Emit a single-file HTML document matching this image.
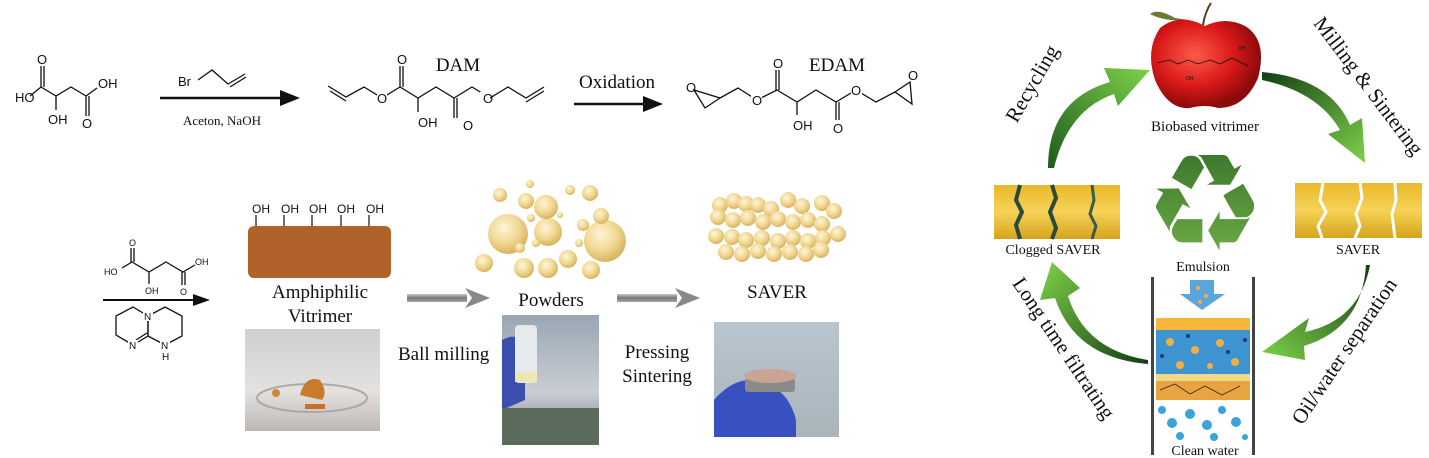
<!DOCTYPE html>
<html><head><meta charset="utf-8"><style>
html,body{margin:0;padding:0;background:#fff;}
svg{display:block}
.t{font-family:"Liberation Serif",serif;fill:#111}
.c{font-family:"Liberation Sans",sans-serif;font-size:13px;fill:#111}
.b{stroke:#111;stroke-width:1.3;fill:none}
</style></head><body>
<svg width="1429" height="458" viewBox="0 0 1429 458" xmlns="http://www.w3.org/2000/svg">
<defs>
<radialGradient id="ball" cx="40%" cy="35%" r="65%"><stop offset="0" stop-color="#fff6d8"/><stop offset="0.6" stop-color="#f0d690"/><stop offset="1" stop-color="#d8b462"/></radialGradient>
<linearGradient id="gray" x1="0" y1="0" x2="0" y2="1"><stop offset="0" stop-color="#c8c8c8"/><stop offset="0.5" stop-color="#777"/><stop offset="1" stop-color="#aaa"/></linearGradient>
<linearGradient id="yel" x1="0" y1="0" x2="0" y2="1"><stop offset="0" stop-color="#e9b92a"/><stop offset="0.5" stop-color="#f6d257"/><stop offset="1" stop-color="#d5a41c"/></linearGradient>
<linearGradient id="g1" x1="0" y1="1" x2="1" y2="0"><stop offset="0" stop-color="#1f5a1c"/><stop offset="1" stop-color="#7ed24a"/></linearGradient>
<linearGradient id="g2" x1="0" y1="0" x2="1" y2="1"><stop offset="0" stop-color="#143e14"/><stop offset="1" stop-color="#7ed24a"/></linearGradient>
<linearGradient id="g3" x1="1" y1="0" x2="0" y2="1"><stop offset="0" stop-color="#143e14"/><stop offset="1" stop-color="#7ed24a"/></linearGradient>
<linearGradient id="g4" x1="1" y1="1" x2="0" y2="0"><stop offset="0" stop-color="#143e14"/><stop offset="1" stop-color="#7ed24a"/></linearGradient>
<linearGradient id="rec" x1="0" y1="0" x2="0" y2="1"><stop offset="0" stop-color="#2e6a28"/><stop offset="1" stop-color="#7bb84a"/></linearGradient>
<radialGradient id="apple" cx="40%" cy="40%" r="60%"><stop offset="0" stop-color="#ff5a4a"/><stop offset="0.6" stop-color="#d81818"/><stop offset="1" stop-color="#8c0a0a"/></radialGradient>
<linearGradient id="photo1" x1="0" y1="0" x2="0" y2="1"><stop offset="0" stop-color="#cfcfcf"/><stop offset="0.6" stop-color="#e4e2e0"/><stop offset="1" stop-color="#bdb8b4"/></linearGradient>
<linearGradient id="photo2" x1="0" y1="0" x2="0" y2="1"><stop offset="0" stop-color="#9aa6b4"/><stop offset="0.6" stop-color="#c9ced4"/><stop offset="1" stop-color="#6a7a70"/></linearGradient>
<linearGradient id="photo3" x1="0" y1="0" x2="0" y2="1"><stop offset="0" stop-color="#b9c6cf"/><stop offset="1" stop-color="#a9b4bb"/></linearGradient>
</defs>

<!-- malic acid -->
<polyline class="b" points="30,96 41,87 56,96 71,87 86,96 97,88"/>
<line class="b" x1="41" y1="87" x2="41" y2="66"/><line class="b" x1="44" y1="87" x2="44" y2="66"/>
<line class="b" x1="56" y1="96" x2="56" y2="110"/>
<line class="b" x1="86" y1="96" x2="86" y2="116"/><line class="b" x1="89" y1="96" x2="89" y2="116"/>
<text class="c" x="15" y="102">HO</text><text class="c" x="37" y="64">O</text>
<text class="c" x="48" y="124">OH</text><text class="c" x="82" y="128">O</text><text class="c" x="98" y="88">OH</text>
<line x1="160" y1="98" x2="282" y2="98" stroke="#111" stroke-width="2.5"/>
<polygon points="280,90 300,98 280,106" fill="#111"/>
<text class="c" x="178" y="86">Br</text>
<polyline class="b" points="198,80 212,70 228,84 245,74"/><line class="b" x1="230" y1="87" x2="246" y2="77"/>
<text class="t" x="222" y="125" font-size="13" text-anchor="middle">Aceton, NaOH</text>
<!-- DAM -->
<text class="t" x="458" y="71" font-size="19" text-anchor="middle">DAM</text>
<polyline class="b" points="328,86 346,97 364,87 382,98 400,87 418,98 436,87 454,98 472,87 490,98 508,87 526,98 544,87"/>
<line class="b" x1="330" y1="91" x2="346" y2="101"/><line class="b" x1="526" y1="102" x2="544" y2="91"/>
<rect x="377" y="92" width="10" height="12" fill="#fff"/><text class="c" x="377" y="103">O</text>
<rect x="480" y="92" width="10" height="12" fill="#fff"/><text class="c" x="483" y="103">O</text>
<line class="b" x1="400" y1="87" x2="400" y2="66"/><line class="b" x1="403" y1="87" x2="403" y2="66"/><text class="c" x="397" y="64">O</text>
<line class="b" x1="418" y1="98" x2="418" y2="112"/><text class="c" x="418" y="127">OH</text>
<line class="b" x1="454" y1="98" x2="454" y2="118"/><line class="b" x1="457" y1="98" x2="457" y2="118"/><text class="c" x="463" y="130">O</text>
<text class="t" x="617" y="88" font-size="19" text-anchor="middle">Oxidation</text>
<line x1="574" y1="104" x2="645" y2="104" stroke="#111" stroke-width="2.5"/>
<polygon points="643,96 663,104 643,112" fill="#111"/>
<!-- EDAM -->
<text class="t" x="837" y="71" font-size="19" text-anchor="middle">EDAM</text>
<polygon class="b" points="694,90 705,108 720,98"/><text class="c" x="686" y="92">O</text>
<polyline class="b" points="720,98 738,88 757,100 777,90 797,102 816,90 836,102 856,90 876,102 895,92"/>
<rect x="751" y="94" width="11" height="12" fill="#fff"/><text class="c" x="752" y="105">O</text>
<rect x="851" y="84" width="11" height="12" fill="#fff"/><text class="c" x="851" y="95">O</text>
<line class="b" x1="776" y1="90" x2="776" y2="70"/><line class="b" x1="779" y1="90" x2="779" y2="70"/><text class="c" x="773" y="68">O</text>
<line class="b" x1="797" y1="102" x2="797" y2="115"/><text class="c" x="793" y="130">OH</text>
<line class="b" x1="836" y1="102" x2="836" y2="120"/><line class="b" x1="839" y1="102" x2="839" y2="120"/><text class="c" x="833" y="133">O</text>
<polygon class="b" points="895,92 910,82 912,104"/><text class="c" x="908" y="80">O</text>

<!-- bottom row -->
<polyline class="b" points="122,268 132,262 149,272 166,262 183,272 195,265"/>
<line class="b" x1="131" y1="262" x2="131" y2="248"/><line class="b" x1="134" y1="262" x2="134" y2="248"/>
<line class="b" x1="149" y1="272" x2="149" y2="284"/>
<line class="b" x1="182" y1="272" x2="182" y2="285"/><line class="b" x1="185" y1="272" x2="185" y2="285"/>
<g class="c" style="font-size:9px"><text x="104" y="275">HO</text><text x="129" y="246">O</text><text x="145" y="294">OH</text><text x="180" y="295">O</text><text x="195" y="265">OH</text></g>
<line x1="103" y1="300" x2="195" y2="300" stroke="#111" stroke-width="2"/>
<polygon points="193,294 210,300 193,306" fill="#111"/>
<polygon class="b" points="148,316 133,307 116,316 116,335 133,345 148,336"/>
<polygon class="b" points="148,336 165,345 182,336 182,316 165,307 148,316"/>
<line class="b" x1="136" y1="340" x2="147" y2="333"/>
<rect x="143" y="311" width="10" height="10" fill="#fff"/><text class="c" x="144" y="320" style="font-size:10px">N</text>
<rect x="128" y="340" width="10" height="10" fill="#fff"/><text class="c" x="129" y="349" style="font-size:10px">N</text>
<rect x="160" y="340" width="10" height="10" fill="#fff"/><text class="c" x="161" y="349" style="font-size:10px">N</text>
<text class="c" x="162" y="360" style="font-size:10px">H</text>

<g class="c" style="font-size:12px"><text x="252" y="213">OH</text><text x="281" y="213">OH</text><text x="309" y="213">OH</text><text x="337" y="213">OH</text><text x="366" y="213">OH</text></g>
<g stroke="#111" stroke-width="1.2"><line x1="256" y1="215" x2="256" y2="227"/><line x1="284" y1="215" x2="284" y2="227"/><line x1="312" y1="215" x2="312" y2="227"/><line x1="341" y1="215" x2="341" y2="227"/><line x1="369" y1="215" x2="369" y2="227"/></g>
<rect x="248" y="226" width="143" height="52" rx="6" fill="#b0622a"/>
<text class="t" x="320" y="298" font-size="19" text-anchor="middle">Amphiphilic</text>
<text class="t" x="320" y="322" font-size="19" text-anchor="middle">Vitrimer</text>
<rect x="245" y="329" width="135" height="102" fill="url(#photo1)"/>
<ellipse cx="312" cy="398" rx="55" ry="14" fill="none" stroke="#aaa" stroke-width="2"/>
<path d="M300 395 Q305 375 320 380 Q328 392 322 400 Z" fill="#c97a2a"/>
<circle cx="276" cy="393" r="4" fill="#c98a3a"/><rect x="305" y="404" width="20" height="5" fill="#c8702a"/>

<rect x="407" y="294" width="60" height="8" fill="url(#gray)"/><polygon points="465,288 490,298 465,308 472,298" fill="#888"/>
<rect x="617" y="294" width="60" height="8" fill="url(#gray)"/><polygon points="675,288 700,298 675,308 682,298" fill="#888"/>
<text class="t" x="398" y="360" font-size="19">Ball milling</text>
<text class="t" x="657" y="358" font-size="19" text-anchor="middle">Pressing</text>
<text class="t" x="657" y="382" font-size="19" text-anchor="middle">Sintering</text>

<g fill="url(#ball)">
<circle cx="508" cy="234" r="20"/><circle cx="548" cy="232" r="14"/><circle cx="546" cy="207" r="12"/><circle cx="605" cy="241" r="21"/>
<circle cx="484" cy="263" r="9"/><circle cx="524" cy="268" r="10"/><circle cx="548" cy="268" r="10"/><circle cx="568" cy="259" r="9"/><circle cx="591" cy="270" r="9"/>
<circle cx="500" cy="195" r="7"/><circle cx="526" cy="201" r="8"/><circle cx="590" cy="193" r="8"/><circle cx="601" cy="216" r="8"/>
<circle cx="570" cy="190" r="5"/><circle cx="531" cy="218" r="4"/><circle cx="536" cy="243" r="4"/><circle cx="579" cy="243" r="4"/><circle cx="583" cy="225" r="6"/><circle cx="520" cy="248" r="5"/><circle cx="530" cy="184" r="4"/><circle cx="560" cy="215" r="3"/>
</g>
<text class="t" x="551" y="306" font-size="19" text-anchor="middle">Powders</text>
<rect x="502" y="315" width="97" height="130" fill="url(#photo2)"/>
<path d="M502 340 Q520 330 525 350 L525 400 L502 410 Z" fill="#3a4fb0"/>
<rect x="515" y="325" width="22" height="58" rx="4" fill="#e6eaec"/><rect x="515" y="372" width="22" height="10" fill="#efe5b0"/>
<rect x="502" y="408" width="97" height="37" fill="#5b6b5c"/>

<g fill="url(#ball)">
<circle cx="720" cy="205" r="8"/><circle cx="734" cy="201" r="8"/><circle cx="746" cy="204" r="8"/><circle cx="758" cy="205" r="8"/><circle cx="771" cy="209" r="8"/><circle cx="788" cy="200" r="8"/><circle cx="802" cy="206" r="8"/><circle cx="822" cy="203" r="8"/><circle cx="834" cy="211" r="8"/>
<circle cx="718" cy="217" r="8"/><circle cx="733" cy="220" r="8"/><circle cx="748" cy="218" r="8"/><circle cx="763" cy="222" r="8"/><circle cx="778" cy="219" r="8"/><circle cx="793" cy="222" r="8"/><circle cx="808" cy="220" r="8"/><circle cx="822" cy="224" r="8"/>
<circle cx="716" cy="236" r="8"/><circle cx="732" cy="237" r="8"/><circle cx="746" cy="240" r="8"/><circle cx="762" cy="238" r="8"/><circle cx="778" cy="241" r="8"/><circle cx="793" cy="238" r="8"/><circle cx="808" cy="241" r="8"/><circle cx="823" cy="238" r="8"/><circle cx="838" cy="234" r="8"/>
<circle cx="726" cy="252" r="8"/><circle cx="742" cy="254" r="8"/><circle cx="758" cy="251" r="8"/><circle cx="774" cy="254" r="8"/><circle cx="790" cy="252" r="8"/><circle cx="806" cy="254" r="8"/><circle cx="821" cy="250" r="8"/>
</g>
<text class="t" x="777" y="298" font-size="19" text-anchor="middle">SAVER</text>
<rect x="714" y="322" width="125" height="115" fill="url(#photo3)"/>
<path d="M714 400 Q740 370 770 385 Q790 395 796 420 L796 437 L714 437 Z" fill="#3850c0"/>
<rect x="745" y="378" width="50" height="14" rx="3" fill="#8a8a88"/>
<ellipse cx="770" cy="376" rx="26" ry="7" fill="#c9a394"/>

<!-- right cycle -->
<path d="M1048,168 Q1048,100 1110,82 L1104,68 L1150,70 L1118,106 L1114,94 Q1068,110 1054,168 Z" fill="url(#g1)"/>
<path d="M1262,72 Q1330,78 1350,125 L1362,118 L1365,163 L1328,134 L1340,130 Q1318,92 1262,80 Z" fill="url(#g2)"/>
<path d="M1370,265 Q1360,320 1305,332 L1309,318 L1262,352 L1305,360 L1304,346 Q1362,328 1366,265 Z" fill="url(#g3)"/>
<path d="M1148,360 Q1085,350 1068,296 L1080,288 L1052,262 L1040,300 L1055,298 Q1075,358 1148,364 Z" fill="url(#g4)"/>

<text class="t" font-size="21" text-anchor="middle" transform="translate(1038,87) rotate(-60)">Recycling</text>
<text class="t" font-size="21" text-anchor="middle" transform="translate(1363,90) rotate(53)">Milling &amp; Sintering</text>
<text class="t" font-size="21" text-anchor="middle" transform="translate(1058,352) rotate(56)">Long time filtrating</text>
<text class="t" font-size="21" text-anchor="middle" transform="translate(1350,355) rotate(-56)">Oil/water separation</text>

<path d="M1175,18 Q1158,8 1150,14 Q1165,22 1188,20 Z" fill="#6a7a30"/>
<path d="M1203,25 Q1205,12 1211,3" stroke="#5a3a1a" stroke-width="2" fill="none"/>
<path d="M1205,26 Q1180,12 1160,28 Q1145,50 1155,80 Q1168,110 1190,108 Q1205,104 1218,108 Q1245,108 1258,78 Q1268,40 1245,26 Q1225,16 1205,26 Z" fill="url(#apple)"/>
<polyline points="1157,63 1170,60 1178,64 1188,60 1198,64 1210,60 1220,64 1232,58 1248,66" stroke="#111" stroke-width="0.8" fill="none"/>
<text class="c" x="1186" y="80" style="font-size:5px">OH</text><text class="c" x="1238" y="50" style="font-size:5px">OH</text>
<text class="t" x="1205" y="131" font-size="15" text-anchor="middle">Biobased vitrimer</text>

<text x="1205" y="250" font-family="DejaVu Sans, sans-serif" font-size="135" fill="url(#rec)" text-anchor="middle">♻</text>

<rect x="994" y="185" width="126" height="54" fill="url(#yel)"/>
<path d="M1020,185 L1016,200 L1022,212 L1016,225 L1020,239" stroke="#2a4a3a" stroke-width="4" fill="none"/>
<path d="M1052,185 L1056,198 L1050,212 L1056,228 L1052,239" stroke="#2a4a3a" stroke-width="4" fill="none"/>
<path d="M1092,185 L1094,200 L1090,214 L1096,226 L1092,239" stroke="#3a5a4a" stroke-width="3" fill="none"/>
<text class="t" x="1053" y="254" font-size="14" text-anchor="middle">Clogged SAVER</text>
<rect x="1295" y="183" width="127" height="55" fill="url(#yel)"/>
<path d="M1323,183 L1320,200 L1326,212 L1318,226 L1322,238" stroke="#fff" stroke-width="3" fill="none"/>
<path d="M1360,183 L1362,198 L1356,214 L1360,226 L1355,238" stroke="#fff" stroke-width="3" fill="none"/>
<path d="M1395,183 L1396,200 L1392,214 L1395,238" stroke="#fff" stroke-width="3" fill="none"/>
<text class="t" x="1358" y="254" font-size="14" text-anchor="middle">SAVER</text>

<text class="t" x="1203" y="271" font-size="14" text-anchor="middle">Emulsion</text>
<rect x="1151" y="277" width="3" height="178" fill="#444"/><rect x="1252" y="277" width="3" height="178" fill="#444"/>
<polygon points="1190,280 1214,280 1214,294 1225,294 1202,310 1180,294 1190,294" fill="#5aa6dc"/>
<circle cx="1198" cy="288" r="2" fill="#f0b040"/><circle cx="1206" cy="296" r="2" fill="#f0b040"/><circle cx="1200" cy="302" r="2" fill="#f0b040"/>
<rect x="1156" y="318" width="94" height="12" fill="#f6b63a"/>
<rect x="1156" y="330" width="94" height="44" fill="#3d94d0"/>
<g fill="#f0b040"><circle cx="1170" cy="342" r="4"/><circle cx="1195" cy="350" r="4"/><circle cx="1220" cy="343" r="4"/><circle cx="1235" cy="362" r="4"/><circle cx="1180" cy="365" r="4"/><circle cx="1210" cy="366" r="3"/></g>
<g fill="#1a3a7a"><circle cx="1162" cy="356" r="2"/><circle cx="1188" cy="336" r="2"/><circle cx="1228" cy="352" r="2"/><circle cx="1245" cy="340" r="2"/></g>
<rect x="1156" y="374" width="94" height="7" fill="#f2d98a"/>
<rect x="1156" y="381" width="94" height="19" fill="#e8a440"/>
<path d="M1160,390 L1175,384 L1190,394 L1205,386 L1222,395 L1240,386" stroke="#3a2a1a" stroke-width="0.8" fill="none"/>
<g fill="#3aa4d8"><circle cx="1162" cy="410" r="4"/><circle cx="1172" cy="423" r="5"/><circle cx="1190" cy="414" r="5"/><circle cx="1207" cy="425" r="5"/><circle cx="1222" cy="410" r="4"/><circle cx="1236" cy="422" r="5"/><circle cx="1180" cy="436" r="4"/><circle cx="1214" cy="437" r="4"/><circle cx="1245" cy="437" r="3"/></g>
<text class="t" x="1205" y="455" font-size="14" text-anchor="middle">Clean water</text>
</svg>
</body></html>
